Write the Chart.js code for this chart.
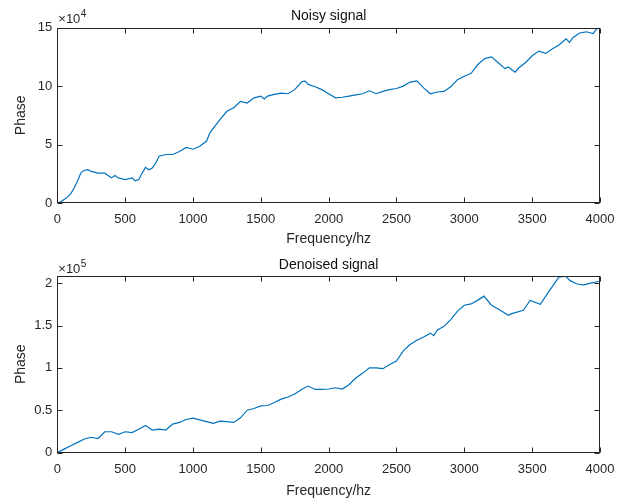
<!DOCTYPE html>
<html>
<head>
<meta charset="utf-8">
<script src="https://cdn.jsdelivr.net/npm/chart.js@4/dist/chart.umd.min.js"></script>
<style>
  html, body { margin: 0; padding: 0; background: #fff; }
  #wrap { position: relative; width: 628px; height: 502px; }
  canvas { position: absolute; left: 0; }
</style>
</head>
<body>
<div id="wrap">
  <canvas id="noisyChart" width="628" height="250" style="top:0"></canvas>
  <canvas id="denoisedChart" width="628" height="252" style="top:250px"></canvas>
</div>
<script>
// frequency ticks shared by both plots
const xTicks = [0, 500, 1000, 1500, 2000, 2500, 3000, 3500, 4000];

// noisy signal (phase in units of 1e4)
const noisyFreq = [0, 25, 50, 75, 100, 125, 150, 175, 200, 225, 250, 300, 350, 400, 425, 450, 500, 550, 575, 600,
  625, 650, 675, 700, 725, 750, 800, 850, 900, 950, 1000, 1050, 1100, 1125, 1150, 1200, 1250, 1300, 1350, 1400,
  1450, 1500, 1525, 1550, 1600, 1650, 1700, 1750, 1800, 1825, 1850, 1900, 1950, 2000, 2050, 2100, 2150, 2200,
  2250, 2300, 2350, 2400, 2450, 2500, 2550, 2600, 2650, 2700, 2750, 2800, 2850, 2900, 2950, 3000, 3050, 3100,
  3150, 3200, 3250, 3300, 3325, 3350, 3375, 3400, 3450, 3500, 3550, 3600, 3650, 3700, 3750, 3775, 3800, 3850,
  3900, 3950, 3975, 4000];
const noisyPhase = [0, 0.1, 0.3, 0.5, 0.8, 1.3, 1.9, 2.6, 2.8, 2.85, 2.7, 2.55, 2.55, 2.15, 2.35, 2.15, 2.0, 2.15, 1.9, 2.0,
  2.55, 3.05, 2.85, 3.0, 3.4, 4.0, 4.15, 4.15, 4.4, 4.75, 4.6, 4.85, 5.3, 6.0, 6.4, 7.15, 7.85, 8.15, 8.7, 8.55,
  9.0, 9.15, 8.9, 9.15, 9.3, 9.4, 9.35, 9.7, 10.35, 10.45, 10.15, 9.95, 9.7, 9.35, 9.0, 9.05, 9.15, 9.25,
  9.35, 9.6, 9.35, 9.55, 9.7, 9.8, 10.0, 10.35, 10.45, 9.85, 9.35, 9.5, 9.55, 9.95, 10.55, 10.85, 11.1, 11.85,
  12.35, 12.5, 12.0, 11.5, 11.65, 11.4, 11.2, 11.55, 12.0, 12.6, 13.0, 12.8, 13.2, 13.55, 14.05, 13.75, 14.15, 14.55,
  14.65, 14.5, 14.9, 15.0];
const noisyTicks = [0, 5, 10, 15];

// denoised signal (phase in units of 1e5)
const denoisedFreq = [0, 50, 100, 150, 200, 250, 300, 350, 400, 450, 500, 550, 600, 650, 700, 750, 800, 850, 900, 950,
  1000, 1050, 1100, 1150, 1200, 1250, 1300, 1350, 1400, 1450, 1500, 1550, 1600, 1650, 1700, 1750, 1800, 1850, 1900, 1950,
  2000, 2050, 2100, 2150, 2200, 2250, 2300, 2350, 2400, 2450, 2500, 2550, 2600, 2650, 2700, 2750, 2775, 2800, 2850, 2900,
  2950, 3000, 3050, 3100, 3145, 3200, 3250, 3325, 3350, 3435, 3485, 3560, 3620, 3670, 3695, 3745, 3780, 3830, 3880, 3930, 3990, 4000];
const denoisedPhase = [0, 0.04, 0.08, 0.12, 0.16, 0.18, 0.165, 0.245, 0.245, 0.215, 0.245, 0.235, 0.275, 0.32, 0.265, 0.275, 0.265, 0.335, 0.355, 0.39,
  0.405, 0.385, 0.365, 0.345, 0.37, 0.365, 0.355, 0.41, 0.5, 0.52, 0.55, 0.555, 0.59, 0.63, 0.655, 0.69, 0.745, 0.785, 0.745, 0.745,
  0.75, 0.765, 0.75, 0.8, 0.88, 0.935, 1.0, 1.0, 0.99, 1.04, 1.08, 1.2, 1.275, 1.325, 1.365, 1.41, 1.38, 1.445, 1.49, 1.57,
  1.67, 1.74, 1.755, 1.8, 1.847, 1.74, 1.695, 1.62, 1.64, 1.68, 1.796, 1.75, 1.894, 2.01, 2.07, 2.083, 2.03, 1.99, 1.98, 2.0, 2.02, 2.03];
const denoisedTicks = [0, 0.5, 1, 1.5, 2];

const lineColor = '#0072BD';
const axisColor = '#262626';
const fontFamily = '"Liberation Sans", Arial, Helvetica, sans-serif';

// box, inward tick marks, title and exponent label, MATLAB style
const matlabAxes = {
    id: 'matlabAxes',
    afterDraw(chart, args, opts) {
        const c = chart.ctx;
        const a = chart.chartArea;
        const xs = chart.scales.x, ys = chart.scales.y;
        const L = Math.round(a.left) + 0.5, R = Math.round(a.right) - 0.5;
        const T = Math.round(a.top) + 0.5, B = Math.round(a.bottom) - 0.5;
        c.save();
        c.strokeStyle = axisColor;
        c.lineWidth = 1;
        c.strokeRect(L, T, R - L, B - T);
        c.beginPath();
        xs.ticks.forEach(t => {
            const px = Math.round(xs.getPixelForValue(t.value)) + 0.5;
            c.moveTo(px, B); c.lineTo(px, B - 5);
            c.moveTo(px, T); c.lineTo(px, T + 5);
        });
        ys.ticks.forEach(t => {
            const py = Math.round(ys.getPixelForValue(t.value)) + 0.5;
            c.moveTo(L, py); c.lineTo(L + 5, py);
            c.moveTo(R, py); c.lineTo(R - 5, py);
        });
        c.stroke();

        c.fillStyle = '#111';
        c.font = '14px ' + fontFamily;
        c.textAlign = 'center';
        c.textBaseline = 'alphabetic';
        c.fillText(opts.title, (a.left + a.right) / 2, a.top + opts.titleDy);

        c.fillStyle = axisColor;
        c.textAlign = 'left';
        c.font = '13px ' + fontFamily;
        const base = '\u00d710';
        c.fillText(base, a.left + 1, a.top + opts.expDy);
        const w = c.measureText(base).width;
        c.font = '10px ' + fontFamily;
        c.fillText(opts.exp, a.left + 1 + w + 0.5, a.top + opts.expDy - 6);
        c.restore();
    }
};

function makeChart(id, freq, phase, yTicks, yMax, plotTop, xHeight, title, exp, titleDy, expDy) {
    const points = freq.map((f, i) => ({ x: f, y: phase[i] }));
    return new Chart(document.getElementById(id).getContext('2d'), {
        type: 'line',
        data: {
            datasets: [{
                data: points,
                borderColor: lineColor,
                borderWidth: 1.2,
                pointRadius: 0,
                tension: 0,
                fill: false
            }]
        },
        options: {
            responsive: false,
            animation: false,
            layout: { padding: { top: plotTop, right: 28, bottom: 0, left: 0 } },
            plugins: {
                legend: { display: false },
                tooltip: { enabled: false },
                title: { display: false },
                matlabAxes: { title: title, exp: exp, titleDy: titleDy, expDy: expDy }
            },
            scales: {
                x: {
                    type: 'linear',
                    min: 0,
                    max: 4000,
                    afterBuildTicks: s => { s.ticks = xTicks.map(v => ({ value: v })); },
                    afterFit: s => { s.height = xHeight; },
                    grid: { display: false, drawTicks: false },
                    border: { display: false },
                    ticks: {
                        color: axisColor,
                        font: { family: fontFamily, size: 13 },
                        padding: 9,
                        maxRotation: 0,
                        autoSkip: false,
                        callback: v => String(v)
                    },
                    title: {
                        display: true,
                        text: 'Frequency/hz',
                        color: axisColor,
                        font: { family: fontFamily, size: 14 },
                        padding: { top: 0, bottom: 2 }
                    }
                },
                y: {
                    type: 'linear',
                    min: 0,
                    max: yMax,
                    afterBuildTicks: s => { s.ticks = yTicks.map(v => ({ value: v })); },
                    afterFit: s => { s.width = 57.3; },
                    grid: { display: false, drawTicks: false },
                    border: { display: false },
                    ticks: {
                        color: axisColor,
                        font: { family: fontFamily, size: 13 },
                        padding: 5,
                        callback: v => String(v)
                    },
                    title: {
                        display: true,
                        text: 'Phase',
                        color: axisColor,
                        font: { family: fontFamily, size: 14 },
                        padding: { top: 13, bottom: 0 }
                    }
                }
            }
        },
        plugins: [matlabAxes]
    });
}

makeChart('noisyChart', noisyFreq, noisyPhase, noisyTicks, 15, 27.7, 47, 'Noisy signal', '4', -8, -4.5);
makeChart('denoisedChart', denoisedFreq, denoisedPhase, denoisedTicks, 2.085, 26, 49.5, 'Denoised signal', '5', -7, -3.5);
</script>
</body>
</html>
